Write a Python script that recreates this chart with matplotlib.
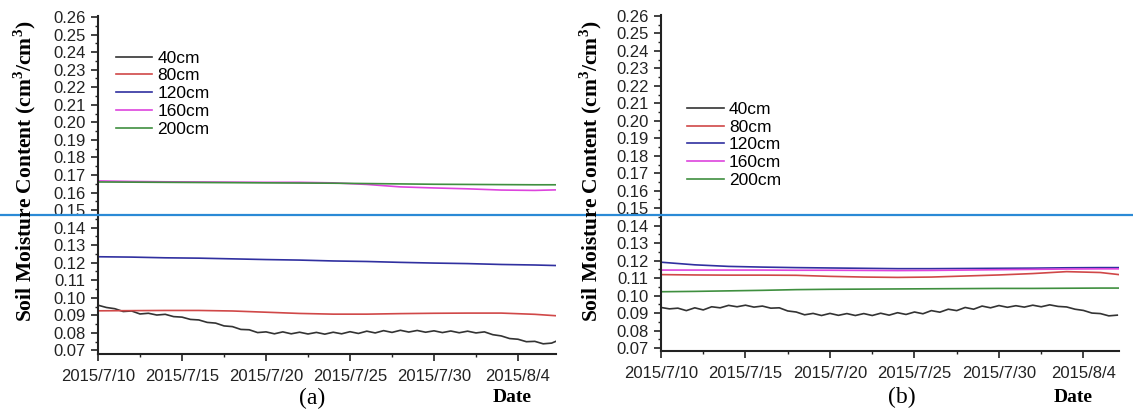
import numpy as np
import matplotlib
matplotlib.use("Agg")
import matplotlib.pyplot as plt
from matplotlib.lines import Line2D
from matplotlib.ticker import MultipleLocator

plt.rcParams['font.family'] = ['Liberation Sans', 'DejaVu Sans']
plt.rcParams['mathtext.fontset'] = 'custom'
plt.rcParams['mathtext.rm'] = 'Liberation Serif'
plt.rcParams['mathtext.bf'] = 'Liberation Serif:bold'

# days since 2015/7/10
tick_days = [0, 5, 10, 15, 20, 25]
tick_labels = ["2015/7/10", "2015/7/15", "2015/7/20", "2015/7/25", "2015/7/30", "2015/8/4"]
depths = ["40cm", "80cm", "120cm", "160cm", "200cm"]

# 40cm series sampled every half day
days_40a = [0.0, 0.5, 1.0, 1.5, 2.0, 2.5, 3.0, 3.5, 4.0, 4.5, 5.0, 5.5, 6.0, 6.5, 7.0, 7.5,
            8.0, 8.5, 9.0, 9.5, 10.0, 10.5, 11.0, 11.5, 12.0, 12.5, 13.0, 13.5, 14.0, 14.5,
            15.0, 15.5, 16.0, 16.5, 17.0, 17.5, 18.0, 18.5, 19.0, 19.5, 20.0, 20.5, 21.0,
            21.5, 22.0, 22.5, 23.0, 23.5, 24.0, 24.5, 25.0, 25.5, 26.0, 26.5, 27.0, 27.25]
a_40 = [0.0958, 0.0945, 0.0938, 0.0922, 0.0925, 0.0908, 0.0912, 0.0902, 0.0906, 0.0893,
        0.0890, 0.0877, 0.0874, 0.0860, 0.0856, 0.0840, 0.0836, 0.0820, 0.0818, 0.0802,
        0.0806, 0.0795, 0.0806, 0.0795, 0.0804, 0.0794, 0.0803, 0.0793, 0.0804, 0.0795,
        0.0807, 0.0797, 0.0810, 0.0800, 0.0813, 0.0803, 0.0815, 0.0805, 0.0814, 0.0804,
        0.0812, 0.0802, 0.0811, 0.0801, 0.0810, 0.0800, 0.0806, 0.0790, 0.0783, 0.0768,
        0.0764, 0.0750, 0.0752, 0.0738, 0.0742, 0.0752]

days_40b = [0.0, 0.5, 1.0, 1.5, 2.0, 2.5, 3.0, 3.5, 4.0, 4.5, 5.0, 5.5, 6.0, 6.5, 7.0, 7.5,
            8.0, 8.5, 9.0, 9.5, 10.0, 10.5, 11.0, 11.5, 12.0, 12.5, 13.0, 13.5, 14.0, 14.5,
            15.0, 15.5, 16.0, 16.5, 17.0, 17.5, 18.0, 18.5, 19.0, 19.5, 20.0, 20.5, 21.0,
            21.5, 22.0, 22.5, 23.0, 23.5, 24.0, 24.5, 25.0, 25.5, 26.0, 26.5, 27.0]
b_40 = [0.0932, 0.0924, 0.0928, 0.0914, 0.0930, 0.0918, 0.0936, 0.0930, 0.0944, 0.0936,
        0.0945, 0.0934, 0.0940, 0.0928, 0.0930, 0.0912, 0.0906, 0.0890, 0.0898, 0.0886,
        0.0898, 0.0887, 0.0897, 0.0886, 0.0897, 0.0886, 0.0899, 0.0888, 0.0902, 0.0892,
        0.0906, 0.0896, 0.0914, 0.0905, 0.0922, 0.0914, 0.0932, 0.0922, 0.0940, 0.0930,
        0.0943, 0.0933, 0.0942, 0.0934, 0.0945, 0.0936, 0.0947, 0.0938, 0.0935, 0.0922,
        0.0915, 0.0900, 0.0897, 0.0884, 0.0888]

# deeper layers, sampled every two days
days_a = [0, 2, 4, 6, 8, 10, 12, 14, 16, 18, 20, 22, 24, 26, 27.25]
a_80 = [0.0926, 0.0927, 0.0928, 0.0928, 0.0925, 0.0918, 0.0911, 0.0907, 0.0907, 0.0910,
        0.0912, 0.0913, 0.0913, 0.0906, 0.0898]
a_120 = [0.1234, 0.1232, 0.1228, 0.1226, 0.1222, 0.1218, 0.1215, 0.1210, 0.1207, 0.1202,
         0.1198, 0.1195, 0.1190, 0.1187, 0.1184]
a_160 = [0.1666, 0.1663, 0.1661, 0.1660, 0.1659, 0.1658, 0.1658, 0.1655, 0.1646, 0.1632,
         0.1626, 0.1621, 0.1614, 0.1612, 0.1615]
a_200 = [0.1660, 0.1659, 0.1658, 0.1657, 0.1656, 0.1655, 0.1654, 0.1653, 0.1651, 0.1649,
         0.1647, 0.1646, 0.1645, 0.1644, 0.1644]

days_b = [0, 2, 4, 6, 8, 10, 12, 14, 16, 18, 20, 22, 24, 26, 27.1]
b_80 = [0.1120, 0.1118, 0.1117, 0.1117, 0.1116, 0.1110, 0.1106, 0.1104, 0.1106, 0.1112,
        0.1118, 0.1126, 0.1137, 0.1132, 0.1120]
b_120 = [0.1191, 0.1176, 0.1167, 0.1163, 0.1160, 0.1158, 0.1156, 0.1154, 0.1154, 0.1155,
         0.1156, 0.1157, 0.1159, 0.1160, 0.1160]
b_160 = [0.1146, 0.1146, 0.1146, 0.1146, 0.1145, 0.1145, 0.1144, 0.1143, 0.1144, 0.1146,
         0.1148, 0.1150, 0.1152, 0.1153, 0.1153]
b_200 = [0.1022, 0.1024, 0.1027, 0.1030, 0.1034, 0.1036, 0.1037, 0.1038, 0.1039, 0.1040,
         0.1041, 0.1041, 0.1042, 0.1043, 0.1043]

colors = ['#333333', '#d04848', '#3030a0', '#dd44dd', '#3f8f3f']

fig = plt.figure(figsize=(11.33, 4.12), dpi=100)
ax_a = fig.add_axes([0.0865, 0.1408, 0.4042, 0.8201])
ax_b = fig.add_axes([0.5834, 0.1481, 0.4042, 0.8153])

panels = [
    (ax_a, [(days_40a, a_40), (days_a, a_80), (days_a, a_120), (days_a, a_160), (days_a, a_200)],
     27.26, (0.068, 0.2605), (0.039, 0.898)),
    (ax_b, [(days_40b, b_40), (days_b, b_80), (days_b, b_120), (days_b, b_160), (days_b, b_200)],
     27.1, (0.0683, 0.2605), (0.057, 0.742)),
]

for ax, series, xmax, ylim, leg_pos in panels:
    for (x, y), c, lab in zip(series, colors, depths):
        ax.plot(x, y, color=c, lw=1.2, label=lab)
    ax.set_xlim(0, xmax)
    ax.set_ylim(*ylim)
    ax.set_xticks(tick_days)
    ax.set_xticklabels(tick_labels)
    ax.xaxis.set_minor_locator(MultipleLocator(2.5))
    ax.set_yticks(np.arange(0.07, 0.2601, 0.01))
    ax.set_yticklabels([f"{v:.2f}" for v in np.arange(0.07, 0.2601, 0.01)])
    ax.yaxis.set_minor_locator(MultipleLocator(0.005))
    ax.tick_params(axis='both', which='major', direction='out', length=5, width=1.2,
                   labelsize=12, colors='#222222')
    ax.tick_params(axis='x', which='major', pad=6)
    ax.tick_params(axis='y', which='major', pad=4)
    ax.tick_params(axis='both', which='minor', direction='out', length=2.5, width=1.0,
                   colors='#222222')
    for s in ['top', 'right']:
        ax.spines[s].set_visible(False)
    for s in ['left', 'bottom']:
        ax.spines[s].set_linewidth(1.5)
        ax.spines[s].set_color('#222222')
    ax.legend(loc='upper left', bbox_to_anchor=leg_pos, frameon=False, fontsize=12.5,
              handlelength=2.1, handletextpad=0.3, labelspacing=0.15, borderpad=0,
              borderaxespad=0)

ylab = "Soil Moisture Content (cm$^{\\mathbf{3}}$/cm$^{\\mathbf{3}}$)"
fig.text(0.022, 0.583, ylab, rotation=90, ha='center', va='center', fontsize=15.5,
         family='Liberation Serif', weight='bold')
fig.text(0.521, 0.583, ylab, rotation=90, ha='center', va='center', fontsize=15.5,
         family='Liberation Serif', weight='bold')

fig.text(0.2754, 0.034, "(a)", ha='center', va='center', fontsize=17, family='Liberation Serif')
fig.text(0.452, 0.034, "Date", ha='center', va='center', fontsize=14, family='Liberation Serif',
         weight='bold')
fig.text(0.796, 0.036, "(b)", ha='center', va='center', fontsize=17, family='Liberation Serif')
fig.text(0.947, 0.036, "Date", ha='center', va='center', fontsize=14, family='Liberation Serif',
         weight='bold')

# horizontal blue rule across the figure
fig.add_artist(Line2D([0, 1], [0.478, 0.478], transform=fig.transFigure, color='#2b8ad6', lw=1.6))

fig.savefig("out.png", dpi=100)
